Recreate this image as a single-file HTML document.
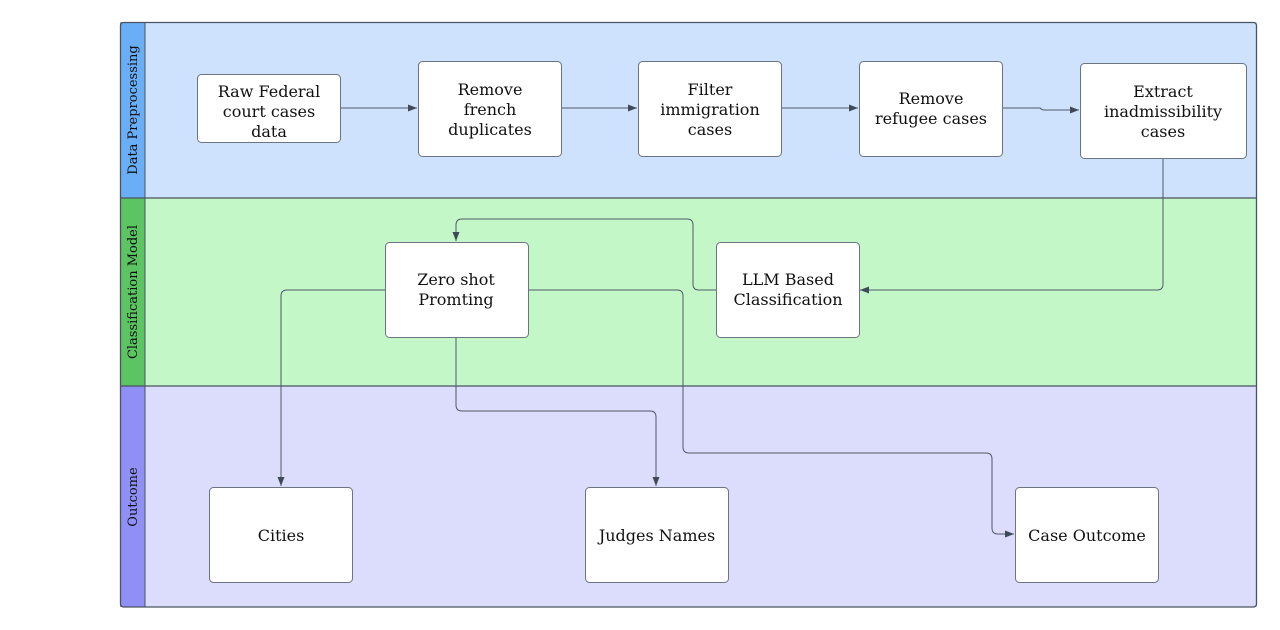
<!DOCTYPE html>
<html><head><meta charset="utf-8"><style>html,body{margin:0;padding:0;background:#fff;}svg{display:block}</style></head>
<body>
<svg width="1280" height="630" viewBox="0 0 1280 630" xmlns="http://www.w3.org/2000/svg" font-family="'DejaVu Serif','Liberation Serif',serif">
<defs>
<marker id="a" markerWidth="10" markerHeight="8" refX="9" refY="4" orient="auto" markerUnits="userSpaceOnUse"><path d="M0,0.5 L9,4 L0,7.5 Z" fill="#3f4a56"/></marker>
</defs>
<!-- lanes -->
<rect x="145" y="22" width="1112" height="176" fill="#cfe2fd"/>
<rect x="145" y="198" width="1112" height="188" fill="#c3f7c8"/>
<rect x="145" y="386" width="1112" height="221" fill="#dcdcfc"/>
<rect x="120" y="22" width="25" height="176" fill="#6aaef7"/>
<rect x="120" y="198" width="25" height="188" fill="#5cc463"/>
<rect x="120" y="386" width="25" height="221" fill="#8f8ff6"/>
<rect x="120.5" y="22.5" width="1136" height="584.5" rx="3" fill="none" stroke="#4a5360" stroke-width="1.3"/>
<line x1="120" y1="198" x2="1257" y2="198" stroke="#4a5360" stroke-width="1.3"/>
<line x1="120" y1="386" x2="1257" y2="386" stroke="#4a5360" stroke-width="1.3"/>
<line x1="145" y1="22" x2="145" y2="607" stroke="#4a5360" stroke-width="1"/>
<g font-size="13" fill="#111" text-anchor="middle">
<text transform="translate(137,110) rotate(-90)">Data Preprocessing</text>
<text transform="translate(137,292) rotate(-90)">Classification Model</text>
<text transform="translate(137,497) rotate(-90)">Outcome</text>
</g>
<!-- connectors -->
<g fill="none" stroke="#4f5a66" stroke-width="1">
<path d="M340,108 H417" marker-end="url(#a)"/>
<path d="M561,108 H637" marker-end="url(#a)"/>
<path d="M782,108 H858" marker-end="url(#a)"/>
<path d="M1002,108 H1040 Q1042,110 1044,110 H1079" marker-end="url(#a)"/>
<path d="M1163,158 V284 Q1163,290 1157,290 H860" marker-end="url(#a)"/>
<path d="M716,290 H699 Q693,290 693,284 V225 Q693,219 687,219 H462 Q456,219 456,225 V241" marker-end="url(#a)"/>
<path d="M385,290 H287 Q281,290 281,296 V486" marker-end="url(#a)"/>
<path d="M456,337 V405 Q456,411 462,411 H650 Q656,411 656,417 V486" marker-end="url(#a)"/>
<path d="M528,290 H677 Q683,290 683,296 V447 Q683,453 689,453 H986 Q992,453 992,459 V528 Q992,534 998,534 H1014" marker-end="url(#a)"/>
</g>
<!-- boxes -->
<g fill="#fff" stroke="#6b7480" stroke-width="1">
<rect x="197.5" y="74.5" width="143" height="68" rx="4"/>
<rect x="418.5" y="61.5" width="143" height="95" rx="4"/>
<rect x="638.5" y="61.5" width="143" height="95" rx="4"/>
<rect x="859.5" y="61.5" width="143" height="95" rx="4"/>
<rect x="1080.5" y="63.5" width="166" height="95" rx="4"/>
<rect x="385.5" y="242.5" width="143" height="95" rx="4"/>
<rect x="716.5" y="242.5" width="143" height="95" rx="4"/>
<rect x="209.5" y="487.5" width="143" height="95" rx="4"/>
<rect x="585.5" y="487.5" width="143" height="95" rx="4"/>
<rect x="1015.5" y="487.5" width="143" height="95" rx="4"/>
</g>
<g font-size="16" fill="#111" text-anchor="middle">
<text x="269" y="97">Raw Federal</text><text x="269" y="117">court cases</text><text x="269" y="137">data</text>
<text x="490" y="95">Remove</text><text x="490" y="115">french</text><text x="490" y="135">duplicates</text>
<text x="710" y="95">Filter</text><text x="710" y="115">immigration</text><text x="710" y="135">cases</text>
<text x="931" y="104">Remove</text><text x="931" y="124">refugee cases</text>
<text x="1163" y="97">Extract</text><text x="1163" y="117">inadmissibility</text><text x="1163" y="137">cases</text>
<text x="456" y="285">Zero shot</text><text x="456" y="305">Promting</text>
<text x="788" y="285">LLM Based</text><text x="788" y="305">Classification</text>
<text x="281" y="541">Cities</text>
<text x="657" y="541">Judges Names</text>
<text x="1087" y="541">Case Outcome</text>
</g>
</svg>
</body></html>
